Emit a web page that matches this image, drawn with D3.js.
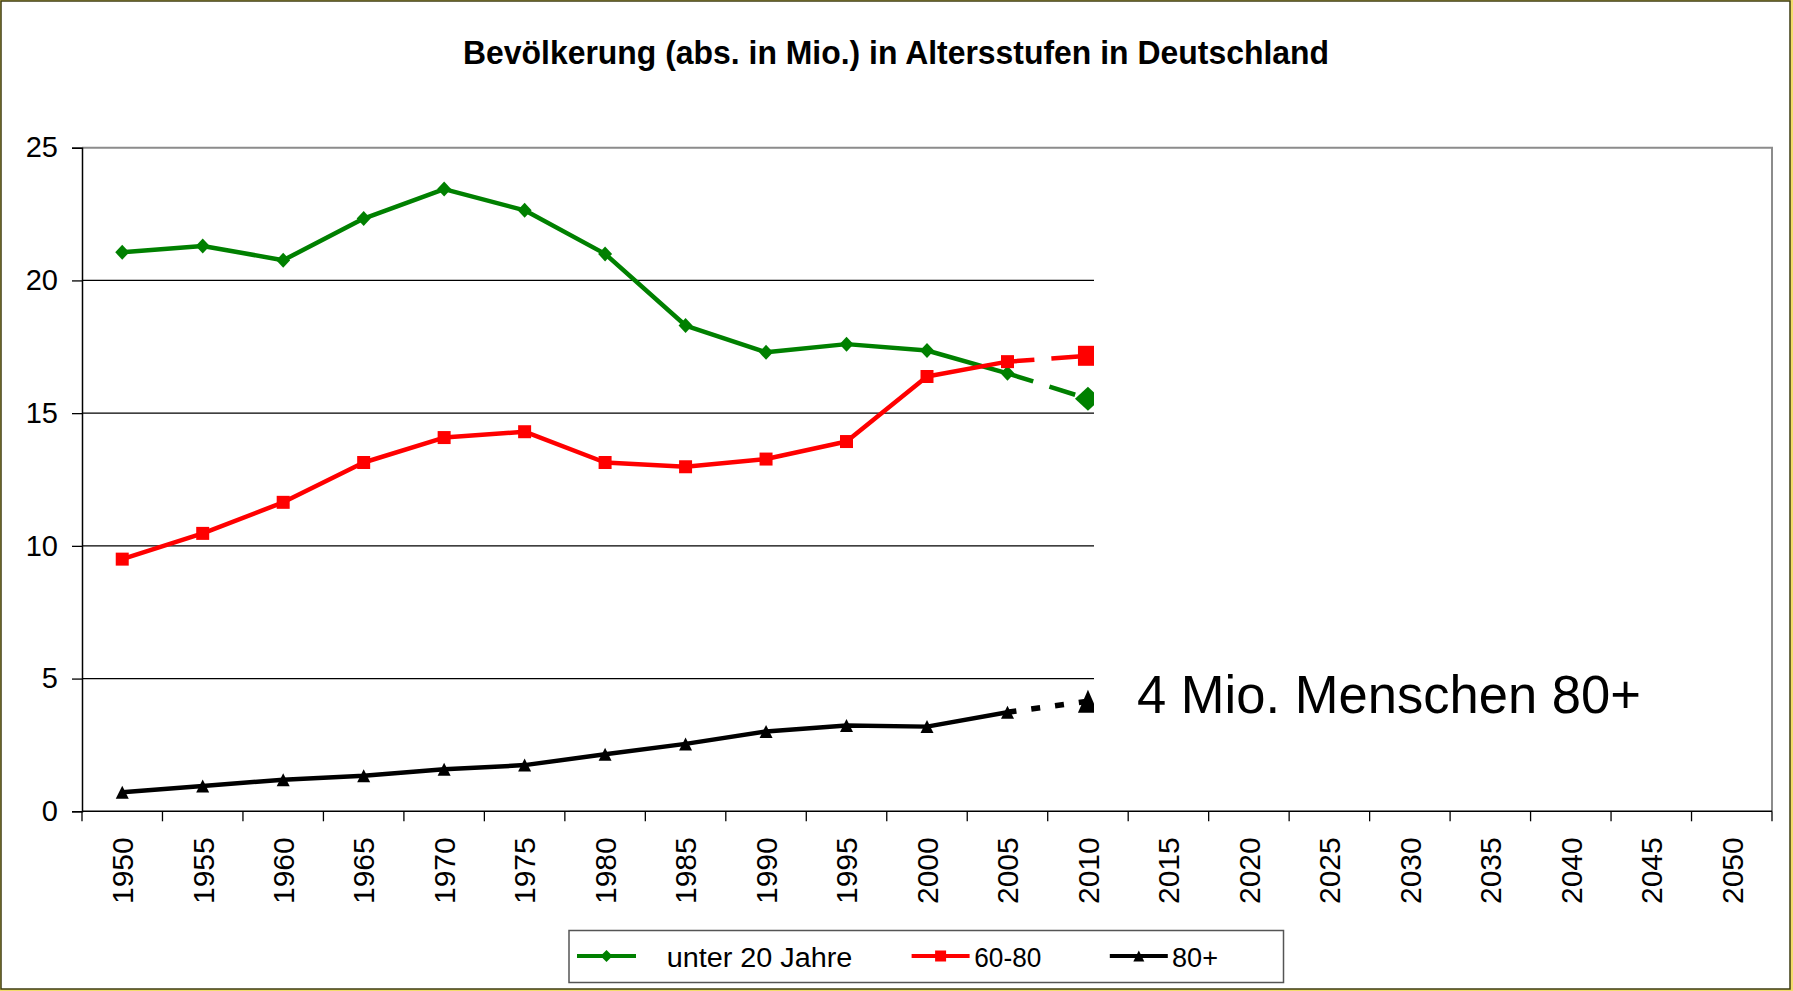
<!DOCTYPE html>
<html>
<head>
<meta charset="utf-8">
<script src="https://cdn.jsdelivr.net/npm/d3@7"></script>
<style>
  html, body { margin: 0; padding: 0; background: #fff; }
  #graph { width: 1793px; height: 991px; }
  text { font-family: "Liberation Sans", Arial, sans-serif; fill: #000; }
</style>
</head>
<body>
<div id="graph"></div>
<script>
// Kategorien der x-Achse (Tick-Beschriftungen)
var years = ["1950", "1955", "1960", "1965", "1970", "1975", "1980", "1985", "1990", "1995", "2000",
             "2005", "2010", "2015", "2020", "2025", "2030", "2035", "2040", "2045", "2050"];
// Jahre mit Werten
var dataYears = ["1950", "1955", "1960", "1965", "1970", "1975", "1980", "1985", "1990", "1995", "2000", "2005", "2010"];
// Werte in Mio.
var unter20 = [21.06, 21.30, 20.76, 22.33, 23.44, 22.64, 21.00, 18.30, 17.29, 17.60, 17.36, 16.50, 15.54];
var alter6080 = [9.50, 10.47, 11.64, 13.14, 14.08, 14.30, 13.14, 12.98, 13.27, 13.93, 16.38, 16.94, 17.16];
var alter80 = [0.72, 0.95, 1.19, 1.34, 1.58, 1.74, 2.15, 2.54, 3.01, 3.23, 3.19, 3.73, 4.15];
var yTicks = [0, 5, 10, 15, 20, 25];

var seriesNames = ["unter 20 Jahre", "60-80", "80+"];

var width = 1793, height = 991;
// Plotbereich
var plot = { left: 82, right: 1772, top: 147.7, bottom: 811.3 };
// ab hier ist der Plotbereich weiß abgedeckt
var coverX = 1094;

var svg = d3.select("#graph").append("svg")
  .attr("width", width)
  .attr("height", height);

var xScale = d3.scaleBand().domain(years).range([plot.left, plot.right]);
var yScale = d3.scaleLinear().domain([0, 25]).range([plot.bottom, plot.top]);

var series = [
  { name: seriesNames[0], values: unter20, color: "#008000", marker: "diamond", dash: "27,17" },
  { name: seriesNames[1], values: alter6080, color: "#ff0000", marker: "square", dash: "27,17" },
  { name: seriesNames[2], values: alter80, color: "#000000", marker: "triangle", dash: "9,15" }
];

function markerPath(type, w, hgt) {
  // w = Breite, hgt = Höhe
  var a = w / 2, b = (hgt || w) / 2;
  if (type === "diamond") return "M0," + (-b) + "L" + a + ",0L0," + b + "L" + (-a) + ",0Z";
  if (type === "square") return "M" + (-a) + "," + (-b) + "h" + w + "v" + (2 * b) + "h" + (-w) + "Z";
  return "M0," + (-b) + "L" + a + "," + b + "L" + (-a) + "," + b + "Z";
}

function cx(year) { return xScale(year) + xScale.bandwidth() / 2; }

// Rahmen
svg.append("rect").attr("x", 0).attr("y", 0).attr("width", width).attr("height", height).attr("fill", "#f2dc6a");
svg.append("rect").attr("x", 1).attr("y", 1).attr("width", 1789).attr("height", 988)
  .attr("fill", "#fff").attr("stroke", "#3d3b12").attr("stroke-width", 1.5);

// Titel
svg.append("text")
  .attr("x", 896).attr("y", 64)
  .attr("text-anchor", "middle")
  .attr("font-size", 33).attr("font-weight", "bold")
  .attr("textLength", 866).attr("lengthAdjust", "spacingAndGlyphs")
  .text("Bevölkerung (abs. in Mio.) in Altersstufen in Deutschland");

// Gitternetz (nur bis 2010 sichtbar)
svg.append("g").selectAll("line").data(yTicks.filter(function(d) { return d > 0 && d < 25; }))
  .enter().append("line")
  .attr("x1", plot.left).attr("x2", coverX)
  .attr("y1", function(d) { return yScale(d); }).attr("y2", function(d) { return yScale(d); })
  .attr("stroke", "#000").attr("stroke-width", 1.3);

// Plotrahmen oben und rechts
svg.append("path")
  .attr("d", "M" + plot.left + "," + plot.top + "H" + plot.right + "V" + plot.bottom)
  .attr("fill", "none").attr("stroke", "#8c8c8c").attr("stroke-width", 2);

// y-Achse
var yAxis = d3.axisLeft(yScale).tickValues(yTicks).tickSize(10).tickPadding(14).tickFormat(d3.format("d"));
var gy = svg.append("g").attr("transform", "translate(" + plot.left + ",0)").call(yAxis);
gy.select(".domain").attr("stroke", "#000").attr("stroke-width", 1.5);
gy.selectAll(".tick line").attr("stroke", "#000").attr("stroke-width", 1.3);
gy.selectAll(".tick text").attr("font-size", 29).attr("font-family", "Liberation Sans, Arial, sans-serif");

// x-Achse mit Strichen zwischen den Kategorien
var gx = svg.append("g").attr("transform", "translate(0," + plot.bottom + ")");
gx.append("line").attr("x1", plot.left).attr("x2", plot.right).attr("stroke", "#000").attr("stroke-width", 1.5);
var bounds = years.map(function(d) { return xScale(d); }).concat([plot.right]);
gx.selectAll(".xtick").data(bounds).enter().append("line")
  .attr("class", "xtick")
  .attr("x1", function(d) { return d; }).attr("x2", function(d) { return d; })
  .attr("y1", 0).attr("y2", 10)
  .attr("stroke", "#000").attr("stroke-width", 1.3);
gx.selectAll(".xlabel").data(years).enter().append("text")
  .attr("class", "xlabel")
  .attr("transform", function(d) { return "translate(" + cx(d) + ",26) rotate(-90)"; })
  .attr("text-anchor", "end")
  .attr("dy", "0.36em")
  .attr("font-size", 30)
  .text(function(d) { return d; });

// Linien
var clip = svg.append("clipPath").attr("id", "plotClip");
clip.append("rect").attr("x", 0).attr("y", 0).attr("width", coverX).attr("height", height);
var layer = svg.append("g").attr("clip-path", "url(#plotClip)");

var line = d3.line()
  .x(function(d) { return cx(d.year); })
  .y(function(d) { return yScale(d.value); });

series.forEach(function(s) {
  var pts = dataYears.map(function(y, i) { return { year: y, value: s.values[i] }; });
  var n = pts.length;
  // durchgezogen bis 2005
  layer.append("path")
    .attr("d", line(pts.slice(0, n - 1)))
    .attr("fill", "none").attr("stroke", s.color).attr("stroke-width", 4.5)
    .attr("stroke-linejoin", "round");
  // 2005 bis 2010 gestrichelt
  layer.append("path")
    .attr("d", line(pts.slice(n - 2)))
    .attr("fill", "none").attr("stroke", s.color)
    .attr("stroke-width", s.marker === "triangle" ? 5.5 : 4.5)
    .attr("stroke-dasharray", s.dash);
  layer.selectAll(null).data(pts).enter().append("path")
    .attr("transform", function(d) { return "translate(" + cx(d.year) + "," + yScale(d.value) + ")"; })
    .attr("d", function(d, i) {
      var big = i === n - 1;
      if (s.marker === "diamond") return big ? markerPath("diamond", 26, 24) : markerPath("diamond", 14, 15);
      if (s.marker === "square") return markerPath("square", big ? 20 : 13);
      return markerPath("triangle", big ? 20 : 13, big ? 23 : 13);
    })
    .attr("fill", s.color);
});

// Anmerkung
svg.append("text")
  .attr("x", 1137).attr("y", 712.7)
  .attr("font-size", 53)
  .attr("textLength", 504).attr("lengthAdjust", "spacingAndGlyphs")
  .text("4 Mio. Menschen 80+");

// Legende
var legend = svg.append("g");
legend.append("rect")
  .attr("x", 569).attr("y", 930.5).attr("width", 714.5).attr("height", 52)
  .attr("fill", "#fff").attr("stroke", "#555").attr("stroke-width", 1.5);
var legendItems = [
  { s: series[0], x1: 577, x2: 636, tx: 666.7, tl: 185.7 },
  { s: series[1], x1: 911.6, x2: 969.6, tx: 974.3, tl: 67 },
  { s: series[2], x1: 1109.8, x2: 1167.8, tx: 1172, tl: 46 }
];
var ly = 956;
legendItems.forEach(function(it) {
  legend.append("line")
    .attr("x1", it.x1).attr("x2", it.x2).attr("y1", ly).attr("y2", ly)
    .attr("stroke", it.s.color).attr("stroke-width", 4);
  legend.append("path")
    .attr("transform", "translate(" + ((it.x1 + it.x2) / 2) + "," + ly + ")")
    .attr("d", markerPath(it.s.marker, it.s.marker === "diamond" ? 12 : 11))
    .attr("fill", it.s.color);
  legend.append("text")
    .attr("x", it.tx).attr("y", 967.3)
    .attr("font-size", 27)
    .attr("textLength", it.tl).attr("lengthAdjust", "spacingAndGlyphs")
    .text(it.s.name);
});
</script>
</body>
</html>
